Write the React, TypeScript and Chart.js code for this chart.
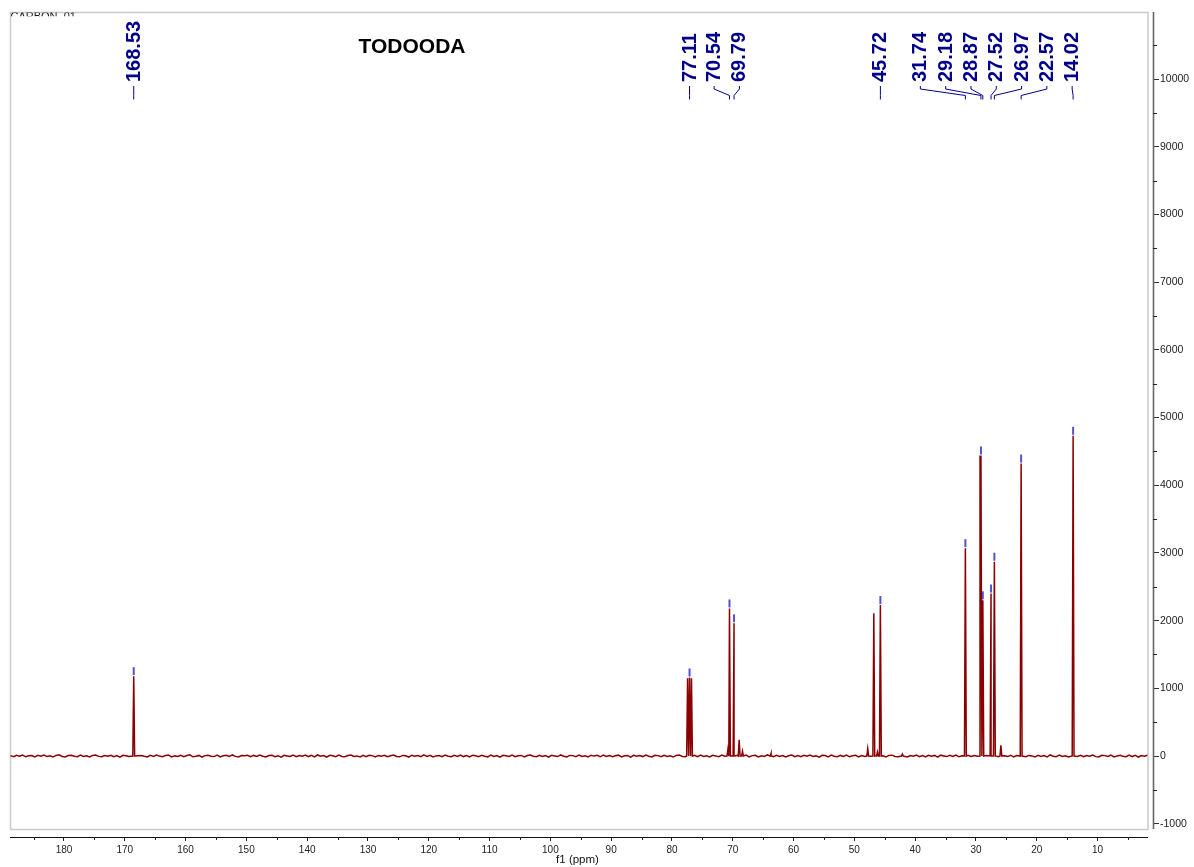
import React, { useEffect, useRef } from 'react';
import { Chart, registerables } from 'chart.js';

Chart.register(...registerables);

// ---- text ----
const SPECTRUM_TITLE = 'TODOODA';
const EXPERIMENT_NAME = 'CARBON_01';
const X_AXIS_TITLE = 'f1 (ppm)';

// ---- axes ----
const X_MIN = 0.88;
const X_MAX = 188.88;
const Y_MIN = -1196;
const Y_MAX = 10990;
const X_TICKS = [180, 170, 160, 150, 140, 130, 120, 110, 100, 90, 80, 70, 60, 50, 40, 30, 20, 10];
const X_MINOR_TICKS = [185, 175, 165, 155, 145, 135, 125, 115, 105, 95, 85, 75, 65, 55, 45, 35, 25, 15, 5];
const Y_TICKS = [-1000, 0, 1000, 2000, 3000, 4000, 5000, 6000, 7000, 8000, 9000, 10000];
const Y_MINOR_TICKS = [-500, 500, 1500, 2500, 3500, 4500, 5500, 6500, 7500, 8500, 9500, 10500];

// ---- 13C peaks (chemical shift in ppm, intensity) ----
const PEAK_PPM = [
  168.53, 77.43, 77.11, 76.79, 70.8, 70.54, 69.79, 68.95, 68.4, 63.7,
  47.8, 46.8, 46.2, 45.72, 42.1, 31.74, 29.18, 28.87, 27.52, 26.97,
  25.9, 22.57, 14.02,
];
const PEAK_HEIGHT = [
  1180, 1150, 1160, 1150, 100, 2180, 1960, 240, 70, 40,
  110, 2110, 60, 2230, 30, 3070, 4440, 2300, 2400, 2870,
  160, 4320, 4730,
];
// peaks carrying a shift label
const LABELLED_PPM = [168.53, 77.11, 70.54, 69.79, 45.72, 31.74, 29.18, 28.87, 27.52, 26.97, 22.57, 14.02];

// ---- baseline noise, one value every 0.5 ppm starting at 188.8 ppm ----
const BASELINE_START_PPM = 188.8;
const BASELINE_STEP_PPM = 0.5;
const BASELINE_NOISE = [
  6, -9, 12, -4, 15, -11, 3, 8, -14, 10, -2, 13, -8, 5, -12, 9, 17, -6, -15, 7, 11, -3, -10, 14, -7,
  4, -13, 9, 16, -5, -11, 8, -2, 12, -9, 6, -16, 10, 3, -7, 13, -12, 5, 9, -4, -14, 11, -6, 15, -1,
  -10, 8, 14, -13, 2, -6, 12, -9, 7, 18, -11, -4, 9, -15, 6, 11, -3, -8, 13, -12, 4, 10, -7, 16, -5,
  -14, 7, 3, 12, -10, 9, -6, 15, -2, -13, 8, 11, -9, 5, -16, 10, 2, -7, 14, -11, 6, -4, 13, -8, 9,
  -12, 16, -3, 7, -15, 11, 4, -9, 13, -6, -11, 8, 15, -5, 2, -13, 10, -8, 12, 6, -14, 9, -2, 11, -10,
  5, 14, -7, -12, 9, 3, -15, 12, -4, 8, -10, 16, -6, 11, -13, 2, 7, -9, 13, -3, -11, 10, -5, 15, -8,
  6, -14, 12, 4, -9, 11, -2, -12, 15, -7, 8, -16, 10, 3, -6, 13, -11, 5, 9, -13, 7, 14, -4, -10, 12,
  -5, 8, -15, 11, 2, -8, 16, -3, -12, 9, 6, -10, 13, -7, 4, -14, 12, -1, 10, -11, 15, -6, 7, -9, 3,
  13, -12, 5, 9, -16, 11, -4, 8, -8, 14, -2, -13, 10, 6, -10, 12, -5, 3, -15, 9, 16, -7, -11, 8, -3,
  12, -9, 15, -6, 4, -13, 10, 2, -11, 14, -4, 7, -15, 9, 11, -8, -3, 13, -12, 6, 10, -14, 5, -7, 16,
  -2, -10, 12, -5, 8, -13, 3, 15, -9, 6, -11, 11, -4, 14, -7, 2, -16, 10, 7, -12, 13, -3, -9, 9, -6,
  15, -11, 4, 10, -14, 8, -5, 12, -2, -10, 16, -8, 5, -13, 9, 13, -6, -12, 11, 3, -15, 7, -4, 14, -9,
  6, -12, 11, -3, 9, -16, 13, 2, -8, 10, -5, 15, -11, 4, -13, 12, -7, 8, -2, -14, 10, 6, -9, 13, -4,
  -11, 15, 3, -8, 12, -13, 7, -5, 14, -10, 9, 2, -15, 11, -6, 8, -12, 16, -3, -9, 13, -7, 5, -14, 10,
  4, -6, 12, -11, 8, -3, 15, -9, -13, 10, 6, -7, 13, -12, 2, 11, -5, -10, 14, -8, 9, -15, 7, -4, 11,
];

const PEAK_HALF_WIDTH = 0.15;
const FONT = "'Liberation Sans', Arial, Helvetica, sans-serif";
const LINE_COLOR = '#8a0000';
const LABEL_COLOR = '#00008b';

function buildSpectrum() {
  const pts: { x: number; y: number }[] = [];
  BASELINE_NOISE.forEach((v, i) => {
    const ppm = BASELINE_START_PPM - i * BASELINE_STEP_PPM;
    if (PEAK_PPM.some((p) => Math.abs(p - ppm) < 0.3)) return;
    pts.push({ x: ppm, y: v });
  });
  PEAK_PPM.forEach((p, i) => {
    pts.push({ x: p + PEAK_HALF_WIDTH, y: 0 });
    pts.push({ x: p, y: PEAK_HEIGHT[i] });
    pts.push({ x: p - PEAK_HALF_WIDTH, y: 0 });
  });
  pts.sort((a, b) => a.x - b.x);
  return pts;
}

// spread labels so neighbours keep a minimum spacing, centring each crowded group on its peaks
function layoutLabels(pxs: number[], spacing: number, groupShift: number): number[] {
  const clusters = pxs.map((p, i) => ({ members: [i], center: p }));
  let merged = true;
  while (merged) {
    merged = false;
    for (let i = 0; i < clusters.length - 1; i++) {
      const a = clusters[i];
      const b = clusters[i + 1];
      const aRight = a.center + ((a.members.length - 1) / 2) * spacing;
      const bLeft = b.center - ((b.members.length - 1) / 2) * spacing;
      if (bLeft - aRight < spacing) {
        const members = a.members.concat(b.members);
        const center = members.reduce((s, m) => s + pxs[m], 0) / members.length;
        clusters.splice(i, 2, { members, center });
        merged = true;
        break;
      }
    }
  }
  const out: number[] = new Array(pxs.length);
  clusters.forEach((c) => {
    const n = c.members.length;
    const off = n > 1 ? groupShift : 0;
    c.members.forEach((m, k) => {
      out[m] = c.center + off + (k - (n - 1) / 2) * spacing;
    });
  });
  return out;
}

const decorPlugin = {
  id: 'nmrDecor',
  beforeDatasetsDraw(chart: any) {
    const { ctx, chartArea } = chart;
    ctx.save();
    // plot frame
    ctx.strokeStyle = '#cacaca';
    ctx.lineWidth = 1.5;
    ctx.strokeRect(chartArea.left + 0.5, chartArea.top + 0.5, chartArea.right - chartArea.left - 5.5, chartArea.bottom - chartArea.top - 8);
    ctx.restore();
  },
  afterDraw(chart: any) {
    const { ctx, chartArea } = chart;
    const xs = chart.scales.x;
    const ys = chart.scales.y;
    ctx.save();

    // axis lines
    ctx.strokeStyle = '#111';
    ctx.lineWidth = 1.2;
    ctx.beginPath();
    ctx.moveTo(chartArea.left, chartArea.bottom + 0.5);
    ctx.lineTo(chartArea.right - 5, chartArea.bottom + 0.5);
    ctx.stroke();
    ctx.strokeStyle = '#666';
    ctx.lineWidth = 1.6;
    ctx.beginPath();
    ctx.moveTo(chartArea.right + 0.5, chartArea.top);
    ctx.lineTo(chartArea.right + 0.5, chartArea.bottom - 8);
    ctx.stroke();

    // minor ticks
    ctx.strokeStyle = '#222';
    ctx.lineWidth = 1;
    ctx.beginPath();
    X_MINOR_TICKS.forEach((v) => {
      const px = Math.round(xs.getPixelForValue(v)) + 0.5;
      ctx.moveTo(px, chartArea.bottom);
      ctx.lineTo(px, chartArea.bottom + 3);
    });
    Y_MINOR_TICKS.forEach((v) => {
      const py = Math.round(ys.getPixelForValue(v)) + 0.5;
      ctx.moveTo(chartArea.right, py);
      ctx.lineTo(chartArea.right + 4, py);
    });
    ctx.stroke();

    // axis title
    ctx.fillStyle = '#111';
    ctx.font = `11.5px ${FONT}`;
    ctx.textAlign = 'center';
    ctx.textBaseline = 'middle';
    ctx.fillText(X_AXIS_TITLE, (chartArea.left + chartArea.right) / 2 - 4, chartArea.bottom + 23);

    // spectrum title
    ctx.fillStyle = '#000';
    ctx.font = `bold 21px ${FONT}`;
    ctx.fillText(SPECTRUM_TITLE, 412, 47);

    // experiment name, partly hidden under the frame edge
    ctx.save();
    ctx.beginPath();
    ctx.rect(chartArea.left, chartArea.top + 0.5, 90, 3.8);
    ctx.clip();
    ctx.fillStyle = '#111';
    ctx.font = `11px ${FONT}`;
    ctx.textAlign = 'left';
    ctx.textBaseline = 'top';
    ctx.fillText(EXPERIMENT_NAME, chartArea.left + 0.5, chartArea.top - 0.5);
    ctx.restore();

    // peak labels, leaders and peak markers
    const peakPx = LABELLED_PPM.map((p) => xs.getPixelForValue(p));
    const labelPx = layoutLabels(peakPx, 25.3, -5);
    const textBottom = 82;
    const leadTop = 86;
    const leadBend1 = 89;
    const leadBend2 = 95.5;
    const leadBottom = 99.5;

    ctx.strokeStyle = LABEL_COLOR;
    ctx.lineWidth = 1;
    LABELLED_PPM.forEach((p, i) => {
      const lx = labelPx[i];
      const px = peakPx[i];
      ctx.beginPath();
      ctx.moveTo(lx, leadTop);
      ctx.lineTo(lx, leadBend1);
      ctx.lineTo(px, leadBend2);
      ctx.lineTo(px, leadBottom);
      ctx.stroke();
    });

    ctx.fillStyle = LABEL_COLOR;
    ctx.font = `bold 20px ${FONT}`;
    ctx.textAlign = 'left';
    ctx.textBaseline = 'middle';
    LABELLED_PPM.forEach((p, i) => {
      ctx.save();
      ctx.translate(labelPx[i] + 0.5, textBottom);
      ctx.rotate(-Math.PI / 2);
      ctx.fillText(p.toFixed(2), 0, 0);
      ctx.restore();
    });

    ctx.strokeStyle = 'rgba(40, 40, 190, 0.8)';
    ctx.lineWidth = 2;
    LABELLED_PPM.forEach((p, i) => {
      const h = PEAK_HEIGHT[PEAK_PPM.indexOf(p)];
      const top = ys.getPixelForValue(h);
      ctx.beginPath();
      ctx.moveTo(peakPx[i], top - 1);
      ctx.lineTo(peakPx[i], top - 9);
      ctx.stroke();
    });

    ctx.restore();
  },
};

export default function App() {
  const canvasRef = useRef<HTMLCanvasElement>(null);

  useEffect(() => {
    document.body.style.margin = '0';
    const canvas = canvasRef.current;
    if (!canvas) return;
    const chart = new Chart(canvas, {
      type: 'line',
      data: {
        datasets: [
          {
            data: buildSpectrum(),
            borderColor: LINE_COLOR,
            borderWidth: 1.5,
            pointRadius: 0,
            tension: 0,
            fill: false,
          },
        ],
      },
      options: {
        animation: false,
        responsive: false,
        devicePixelRatio: 1,
        events: [],
        layout: { padding: { left: 10, top: 12, right: 0, bottom: 0 } },
        plugins: { legend: { display: false }, tooltip: { enabled: false } },
        scales: {
          x: {
            type: 'linear',
            reverse: true,
            min: X_MIN,
            max: X_MAX,
            position: 'bottom',
            afterFit: (s: any) => {
              s.height = 30;
            },
            afterBuildTicks: (s: any) => {
              s.ticks = X_TICKS.map((v) => ({ value: v }));
            },
            border: { display: false },
            grid: { drawOnChartArea: false, drawTicks: true, tickLength: 4, color: '#222', lineWidth: 1 },
            ticks: {
              autoSkip: false,
              maxRotation: 0,
              padding: 3,
              color: '#222',
              font: { family: FONT, size: 10 },
              callback: (v: any) => String(v),
            },
          },
          y: {
            type: 'linear',
            position: 'right',
            min: Y_MIN,
            max: Y_MAX,
            afterFit: (s: any) => {
              s.width = 41;
            },
            afterBuildTicks: (s: any) => {
              s.ticks = Y_TICKS.map((v) => ({ value: v }));
            },
            border: { display: false },
            grid: { drawOnChartArea: false, drawTicks: true, tickLength: 6, color: '#333', lineWidth: 1 },
            ticks: {
              autoSkip: false,
              padding: 1,
              color: '#222',
              font: { family: FONT, size: 10.5 },
              callback: (v: any) => String(v),
            },
          },
        },
      },
      plugins: [decorPlugin],
    });
    return () => chart.destroy();
  }, []);

  return (
    <div style={{ position: 'relative', width: 1194, height: 867, background: '#fff' }}>
      <canvas ref={canvasRef} width={1194} height={867} style={{ display: 'block' }} />
    </div>
  );
}
